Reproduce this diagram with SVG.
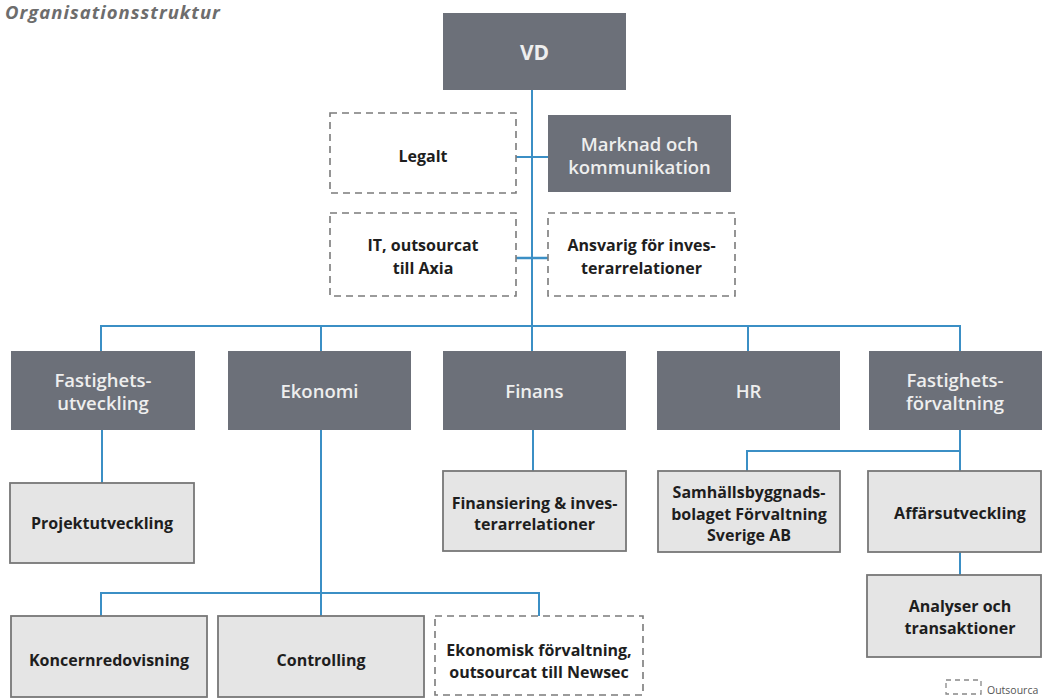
<svg xmlns="http://www.w3.org/2000/svg" width="1042" height="698" viewBox="0 0 1042 698">
<style>
.dark{fill:#6c7079;}
.light{fill:#e5e5e5;stroke:#777777;stroke-width:1.8;}
.dash{fill:#ffffff;stroke:#7b7b7b;stroke-width:1.6;stroke-dasharray:7 5;}
.dt{font-family:"Open Sans","Liberation Sans",sans-serif;font-size:18.5px;font-weight:600;fill:#eeeeee;text-anchor:middle;}
.lt{font-family:"Open Sans","Liberation Sans",sans-serif;font-size:16px;font-weight:bold;fill:#1e1e1e;text-anchor:middle;}
.conn line,.conn polyline{stroke:#3b8fc5;stroke-width:2;fill:none;}
</style>
<rect width="1042" height="698" fill="#ffffff"/>
<text x="5" y="19" font-family="Open Sans,Liberation Sans,sans-serif" font-size="18.5" font-weight="bold" font-style="italic" letter-spacing="1" fill="#6d6d6d">Organisationsstruktur</text>

<g id="connectors" class="conn">
<line x1="532" y1="90" x2="532" y2="326"/>
<line x1="516" y1="157" x2="548" y2="157"/>
<line x1="516" y1="258" x2="548" y2="258" style="stroke-width:2.5"/>
<line x1="100" y1="326" x2="961" y2="326"/>
<line x1="101" y1="325" x2="101" y2="351"/>
<line x1="321" y1="326" x2="321" y2="351"/>
<line x1="532" y1="326" x2="532" y2="351"/>
<line x1="748" y1="326" x2="748" y2="351"/>
<line x1="960" y1="325" x2="960" y2="351"/>
<line x1="102" y1="430" x2="102" y2="483"/>
<line x1="321" y1="430" x2="321" y2="616"/>
<polyline points="101,616 101,593 539,593 539,616"/>
<line x1="533" y1="430" x2="533" y2="471"/>
<line x1="960" y1="430" x2="960" y2="471"/>
<polyline points="747,471 747,451 960,451"/>
<line x1="960" y1="552" x2="960" y2="575"/>
</g>

<g id="vd"><rect class="dark" x="443" y="13" width="183" height="77"/><text class="dt" x="534.5" y="60" style="font-size:21px;font-weight:bold">VD</text></g>
<g id="legalt"><rect class="dash" x="330" y="113" width="186" height="80"/><text class="lt" x="423" y="162">Legalt</text></g>
<g id="marknad"><rect class="dark" x="548" y="115" width="183" height="77"/><text class="dt" x="639.5" y="151">Marknad och</text><text class="dt" x="639.5" y="174">kommunikation</text></g>
<g id="it"><rect class="dash" x="330" y="213" width="186" height="83"/><text class="lt" x="423" y="251">IT, outsourcat</text><text class="lt" x="423" y="274">till Axia</text></g>
<g id="ansvarig"><rect class="dash" x="548" y="213" width="187" height="83"/><text class="lt" x="641.5" y="251">Ansvarig för inves-</text><text class="lt" x="641.5" y="274">terarrelationer</text></g>

<g id="fastighetsutveckling"><rect class="dark" x="11" y="351" width="184" height="79"/><text class="dt" x="103" y="387">Fastighets-</text><text class="dt" x="103" y="410">utveckling</text></g>
<g id="ekonomi"><rect class="dark" x="228" y="351" width="183" height="79"/><text class="dt" x="319.5" y="398">Ekonomi</text></g>
<g id="finans"><rect class="dark" x="443" y="351" width="183" height="79"/><text class="dt" x="534.5" y="398">Finans</text></g>
<g id="hr"><rect class="dark" x="657" y="351" width="183" height="79"/><text class="dt" x="748.5" y="398">HR</text></g>
<g id="fastighetsforvaltning"><rect class="dark" x="869" y="351" width="173" height="79"/><text class="dt" x="955" y="387">Fastighets-</text><text class="dt" x="955" y="410">förvaltning</text></g>

<g id="projektutveckling"><rect class="light" x="10" y="483" width="184" height="80"/><text class="lt" x="102" y="529">Projektutveckling</text></g>
<g id="finansiering"><rect class="light" x="443" y="471" width="183" height="80"/><text class="lt" x="534.5" y="509">Finansiering &amp; inves-</text><text class="lt" x="534.5" y="530">terarrelationer</text></g>
<g id="samhallsbyggnad"><rect class="light" x="658" y="471" width="182" height="81"/><text class="lt" x="749" y="498">Samhällsbyggnads-</text><text class="lt" x="749" y="520">bolaget Förvaltning</text><text class="lt" x="749" y="541">Sverige AB</text></g>
<g id="affarsutveckling"><rect class="light" x="868" y="471" width="173" height="81"/><text class="lt" x="960" y="519">Affärsutveckling</text></g>
<g id="analyser"><rect class="light" x="867" y="575" width="174" height="82"/><text class="lt" x="960" y="612">Analyser och</text><text class="lt" x="960" y="634">transaktioner</text></g>

<g id="koncernredovisning"><rect class="light" x="11" y="616" width="196" height="81"/><text class="lt" x="109" y="666">Koncernredovisning</text></g>
<g id="controlling"><rect class="light" x="218" y="616" width="206" height="81"/><text class="lt" x="321" y="666">Controlling</text></g>
<g id="ekonomisk"><rect class="dash" x="435" y="616" width="208" height="79"/><text class="lt" x="539" y="656">Ekonomisk förvaltning,</text><text class="lt" x="539" y="678">outsourcat till Newsec</text></g>

<g id="legend"><rect x="946" y="680" width="35" height="14" fill="none" stroke="#888" stroke-width="1.3" stroke-dasharray="5 4"/><text x="987" y="694" font-family="Open Sans,Liberation Sans,sans-serif" font-size="10.5" fill="#555">Outsourca</text></g>
</svg>
